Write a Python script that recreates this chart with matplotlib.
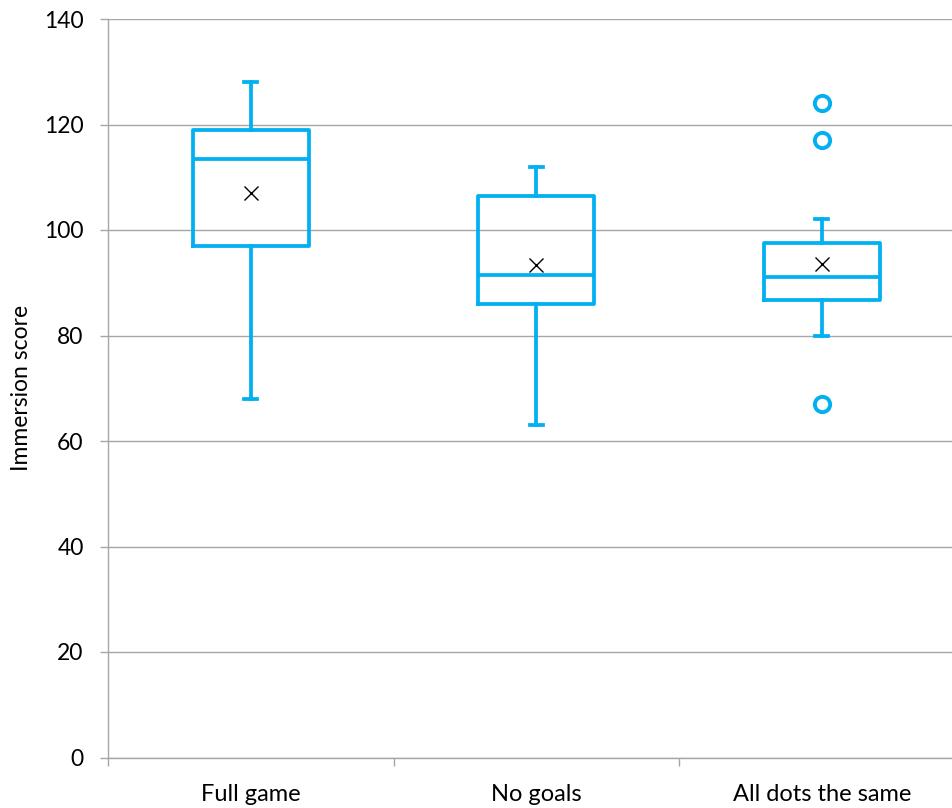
import matplotlib
matplotlib.use("Agg")
import matplotlib.pyplot as plt

categories = ["Full game", "No goals", "All dots the same"]
whisker_low = [68, 63, 80]
q1 = [97, 86, 86.8]
medians = [113.5, 91.5, 91]
q3 = [119, 106.5, 97.5]
whisker_high = [128, 112, 102]
means = [107, 93.3, 93.5]
outliers = [[], [], [124, 117, 67]]
y_ticks = [0, 20, 40, 60, 80, 100, 120, 140]

BLUE = "#00B0F0"
GRID = "#A6A6A6"

plt.rcParams["font.family"] = ["Lato", "DejaVu Sans"]

fig = plt.figure(figsize=(9.53, 8.08), dpi=100)
ax = fig.add_axes([108 / 953, 1 - 757.5 / 808, (964.5 - 108) / 953, (757.5 - 19) / 808])

stats = []
for i, name in enumerate(categories):
    stats.append(dict(label=name, whislo=whisker_low[i], q1=q1[i], med=medians[i],
                      q3=q3[i], whishi=whisker_high[i], mean=means[i], fliers=outliers[i]))

positions = list(range(1, len(categories) + 1))
lw = 2.7
ax.bxp(stats, positions=positions, widths=0.405, showmeans=True, showfliers=True,
       patch_artist=False, capwidths=0.045,
       boxprops=dict(color=BLUE, linewidth=lw),
       medianprops=dict(color=BLUE, linewidth=lw),
       whiskerprops=dict(color=BLUE, linewidth=lw),
       capprops=dict(color=BLUE, linewidth=lw),
       meanprops=dict(marker="x", markeredgecolor="black", markerfacecolor="black",
                      markersize=10, markeredgewidth=1.0),
       flierprops=dict(marker="o", markerfacecolor="white", markeredgecolor=BLUE,
                       markersize=11, markeredgewidth=2.8))

ax.set_xlim(0.5, len(categories) + 0.5)
ax.set_ylim(0, 140)
ax.set_yticks(y_ticks)
ax.yaxis.grid(True, color=GRID, linewidth=1.0)
ax.set_axisbelow(True)

for side in ("top", "right"):
    ax.spines[side].set_visible(False)
for side in ("left", "bottom"):
    ax.spines[side].set_color(GRID)
    ax.spines[side].set_linewidth(1.0)

ax.set_xticks(positions)
ax.set_xticklabels(categories)
ax.set_xticks([p + 0.5 for p in range(len(categories) + 1)], minor=True)
ax.tick_params(axis="x", which="major", length=0, pad=19, labelsize=17, colors="black")
ax.tick_params(axis="x", which="minor", length=6, color=GRID, width=1.0)
ax.tick_params(axis="y", which="major", length=6, color=GRID, width=1.0, pad=11.5,
               labelsize=16.5, labelcolor="black")

ax.set_ylabel("Immersion score", fontsize=16.5, labelpad=9)

fig.savefig("out.png", dpi=100)
